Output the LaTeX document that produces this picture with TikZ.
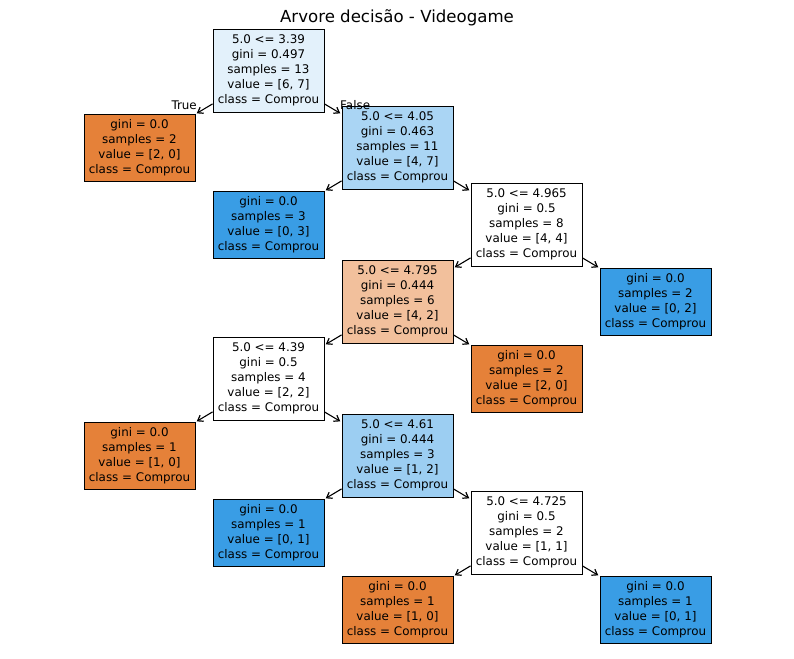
\documentclass[tikz,border=0pt]{standalone}
\usepackage{fontspec}
\setmainfont{DejaVu Sans}
\usetikzlibrary{arrows.meta}
\definecolor{orng}{RGB}{229,129,57}
\definecolor{blu}{RGB}{57,157,229}
\definecolor{rootc}{RGB}{227,241,251}
\definecolor{bluemid}{RGB}{170,213,244}
\definecolor{bluehalf}{RGB}{156,206,242}
\definecolor{orhalf}{RGB}{242,192,156}
\tikzset{
  treebox/.style={draw=black, line width=0.9pt, inner sep=0pt, minimum width=111pt, align=center, font=\fontsize{11.9}{15}\selectfont},
  splitbox/.style={treebox, minimum height=83pt},
  leafbox/.style={treebox, minimum height=67pt},
  edge/.style={-{Straight Barb[length=5pt,width=7pt,line width=1.2pt]}, line width=1.1pt, shorten >=1.5pt},
  lbl/.style={font=\fontsize{11.9}{14}\selectfont, inner sep=0pt}
}
\begin{document}
\begin{tikzpicture}[x=1pt,y=-1pt]
\useasboundingbox (0,0) rectangle (794,658);
\node[font=\fontsize{16.6}{20}\selectfont] (title) at (397,18) {Arvore decisão - Videogame};
\node[splitbox, fill=rootc] (r0) at (268.5,70.5) {5.0 <= 3.39\\gini = 0.497\\samples = 13\\value = [6, 7]\\class = Comprou};
\node[leafbox, fill=orng] (l1) at (139.5,147.5) {gini = 0.0\\samples = 2\\value = [2, 0]\\class = Comprou};
\node[splitbox, fill=bluemid] (n1) at (397.5,147.5) {5.0 <= 4.05\\gini = 0.463\\samples = 11\\value = [4, 7]\\class = Comprou};
\node[leafbox, fill=blu] (l2) at (268.5,224.5) {gini = 0.0\\samples = 3\\value = [0, 3]\\class = Comprou};
\node[splitbox, fill=white] (n2) at (526.5,224.5) {5.0 <= 4.965\\gini = 0.5\\samples = 8\\value = [4, 4]\\class = Comprou};
\node[splitbox, fill=orhalf] (n3) at (397.5,301.5) {5.0 <= 4.795\\gini = 0.444\\samples = 6\\value = [4, 2]\\class = Comprou};
\node[leafbox, fill=blu] (l3) at (655.5,301.5) {gini = 0.0\\samples = 2\\value = [0, 2]\\class = Comprou};
\node[splitbox, fill=white] (n4) at (268.5,378.5) {5.0 <= 4.39\\gini = 0.5\\samples = 4\\value = [2, 2]\\class = Comprou};
\node[leafbox, fill=orng] (l4) at (526.5,378.5) {gini = 0.0\\samples = 2\\value = [2, 0]\\class = Comprou};
\node[leafbox, fill=orng] (l5) at (139.5,455.5) {gini = 0.0\\samples = 1\\value = [1, 0]\\class = Comprou};
\node[splitbox, fill=bluehalf] (n5) at (397.5,455.5) {5.0 <= 4.61\\gini = 0.444\\samples = 3\\value = [1, 2]\\class = Comprou};
\node[leafbox, fill=blu] (l6) at (268.5,532.5) {gini = 0.0\\samples = 1\\value = [0, 1]\\class = Comprou};
\node[splitbox, fill=white] (n6) at (526.5,532.5) {5.0 <= 4.725\\gini = 0.5\\samples = 2\\value = [1, 1]\\class = Comprou};
\node[leafbox, fill=orng] (l7) at (397.5,609.5) {gini = 0.0\\samples = 1\\value = [1, 0]\\class = Comprou};
\node[leafbox, fill=blu] (l8) at (655.5,609.5) {gini = 0.0\\samples = 1\\value = [0, 1]\\class = Comprou};
\draw[edge] (r0) -- (l1);
\draw[edge] (r0) -- (n1);
\draw[edge] (n1) -- (l2);
\draw[edge] (n1) -- (n2);
\draw[edge] (n2) -- (n3);
\draw[edge] (n2) -- (l3);
\draw[edge] (n3) -- (n4);
\draw[edge] (n3) -- (l4);
\draw[edge] (n4) -- (l5);
\draw[edge] (n4) -- (n5);
\draw[edge] (n5) -- (l6);
\draw[edge] (n5) -- (n6);
\draw[edge] (n6) -- (l7);
\draw[edge] (n6) -- (l8);
\node[lbl, anchor=east] (tlbl) at (197,105) {True};
\node[lbl, anchor=west] (flbl) at (340,105) {False};
\end{tikzpicture}
\end{document}
